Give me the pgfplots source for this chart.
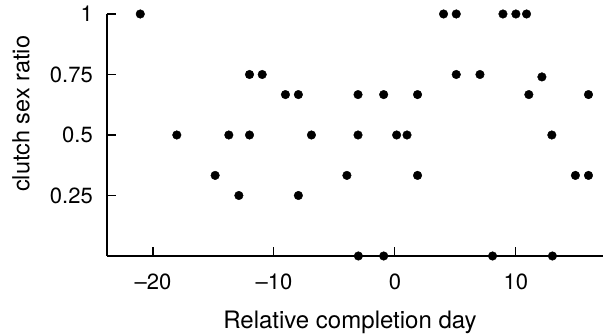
\documentclass[border=0pt]{standalone}
\usepackage{fontspec}
\setmainfont{TeX Gyre Heros}
\usepackage{pgfplots}
\pgfplotsset{compat=1.18}
\begin{document}
\begin{tikzpicture}[x=1pt,y=1pt]
\useasboundingbox (0,0) rectangle (603,336);
\begin{axis}[
  at={(107pt,80pt)}, anchor=south west,
  scale only axis, width=496pt, height=242pt,
  xmin=-23.8, xmax=17.2, ymin=0, ymax=1,
  axis x line=bottom, axis y line=left,
  axis line style={-, line width=1.3pt, black},
  clip=false,
  xtick={-20,-10,0,10},
  xticklabels={\textendash20,\textendash10,0,10},
  ytick={0.25,0.5,0.75,1},
  yticklabels={0.25,0.5,0.75,1},
  tick align=inside,
  major tick length=9pt,
  tick style={line width=1.1pt, black},
  xticklabel style={font=\fontsize{22}{22}\selectfont, anchor=north, inner sep=0pt, yshift=-18pt},
  yticklabel style={font=\fontsize{22}{22}\selectfont, anchor=east, inner sep=0pt, xshift=-14pt},
  xlabel={Relative completion day},
  ylabel={clutch sex ratio},
  xlabel style={font=\fontsize{24}{24}\selectfont, at={(axis description cs:0.5,0)}, anchor=north, inner sep=0pt, yshift=-54.8pt, xshift=-5pt},
  ylabel style={font=\fontsize{23.5}{23.5}\selectfont, at={(axis description cs:-0.1567,0.587)}, anchor=base, inner sep=0pt},
]
\addplot[only marks, mark=*, mark size=4.3pt, black] table {
x y
-21.05 1
4.02 1
5.07 1
8.93 1
10.0 1
10.88 1
-12.02 0.75
-10.97 0.75
5.07 0.75
7.03 0.75
12.15 0.74
-9.05 0.667
-7.98 0.667
-3.05 0.667
-0.93 0.667
1.87 0.667
11.07 0.667
16.0 0.667
-18.03 0.5
-13.73 0.5
-12.02 0.5
-6.90 0.5
-3.05 0.5
0.14 0.5
1.0 0.5
12.97 0.5
-14.86 0.333
-3.97 0.333
1.87 0.333
14.92 0.333
16.0 0.333
-12.9 0.25
-7.98 0.25
-3.02 0
-0.93 0
8.07 0
13.02 0
};
\end{axis}
\end{tikzpicture}
\end{document}
